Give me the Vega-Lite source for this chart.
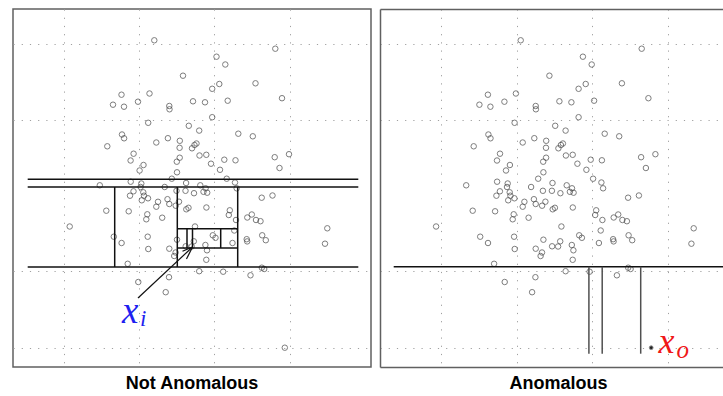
{
  "$schema": "https://vega.github.io/schema/vega-lite/v6.json",
  "padding": {"left": 12, "top": 8, "right": 0, "bottom": 0},
  "background": "white",
  "spacing": 8,
  "config": {
    "view": {"stroke": "#606060", "strokeWidth": 1.5},
    "axis": {"labels": false, "ticks": false, "title": null, "domain": false, "grid": true, "gridColor": "#a0a0a0", "gridDash": [1.2, 7], "gridWidth": 1, "minExtent": 0, "maxExtent": 0, "domainColor": "#606060", "domainWidth": 1.5},
    "title": {"font": "Liberation Sans", "fontSize": 18, "fontWeight": "bold", "color": "#000000", "orient": "bottom", "offset": 8}
  },
  "datasets": {
    "pts": [
      {"x":153.3,"y":39.3},{"x":274.3,"y":47.7},{"x":215.5,"y":55.7},{"x":224.3,"y":63.5},{"x":182,"y":74.7},
      {"x":254.5,"y":82.3},{"x":218.3,"y":83},{"x":211.2,"y":87.8},{"x":120.5,"y":93.7},{"x":148.5,"y":92.5},
      {"x":281,"y":97.2},{"x":112,"y":103.7},{"x":123,"y":105.7},{"x":137,"y":100.7},{"x":168.3,"y":105},
      {"x":168.5,"y":108.3},{"x":192,"y":100.3},{"x":204,"y":101.3},{"x":226.7,"y":99.7},{"x":211.2,"y":116.2},
      {"x":147.2,"y":121.8},{"x":187.8,"y":124.8},{"x":198.2,"y":129.6},{"x":237.3,"y":132.7},{"x":251.8,"y":135.3},
      {"x":121,"y":133.5},{"x":123.1,"y":137.3},{"x":166.9,"y":137.2},{"x":155.3,"y":141.5},{"x":178.8,"y":139.8},
      {"x":106.3,"y":145.3},{"x":178.6,"y":146.8},{"x":191,"y":147.3},{"x":193.5,"y":144},{"x":195.5,"y":142.5},
      {"x":132.6,"y":152.7},{"x":129.6,"y":159.5},{"x":142.5,"y":164},{"x":138.6,"y":169.5},{"x":198.5,"y":154.5},
      {"x":205.3,"y":153.8},{"x":178.7,"y":156.7},{"x":175.8,"y":160.7},{"x":210,"y":162.7},{"x":223.3,"y":158.7},
      {"x":234.5,"y":159.3},{"x":219,"y":168.8},{"x":273.7,"y":156.2},{"x":288,"y":153.2},{"x":278.5,"y":167},
      {"x":176,"y":171.3},{"x":170.8,"y":177.7},{"x":225.7,"y":177.7},{"x":234,"y":181.5},{"x":98.8,"y":184.3},
      {"x":129.7,"y":180.7},{"x":140.3,"y":182.5},{"x":185.1,"y":182},{"x":163.7,"y":186},{"x":199.3,"y":184.3},
      {"x":204.6,"y":187.3},{"x":175.5,"y":189.8},{"x":184.5,"y":189.8},{"x":193,"y":192.2},{"x":202.5,"y":190.8},
      {"x":206.2,"y":191.7},{"x":235.7,"y":187.3},{"x":132.5,"y":190.3},{"x":142.3,"y":191.3},{"x":129,"y":194.7},
      {"x":139.6,"y":186},{"x":260.7,"y":196.7},{"x":271.5,"y":194.5},{"x":143,"y":194.7},{"x":147,"y":197.3},
      {"x":140.8,"y":199.3},{"x":157,"y":200.8},{"x":155.3,"y":205.7},{"x":166.5,"y":198.2},{"x":168.3,"y":203},
      {"x":174.7,"y":204.7},{"x":178,"y":200.7},{"x":105.3,"y":209.7},{"x":127.7,"y":210.3},{"x":146.3,"y":213.3},
      {"x":145.3,"y":218.3},{"x":161.2,"y":216.7},{"x":185.3,"y":208.3},{"x":187.5,"y":206.8},{"x":205.4,"y":206.5},
      {"x":228.8,"y":209.3},{"x":227.8,"y":214},{"x":235,"y":219},{"x":246.3,"y":216.5},{"x":250.8,"y":213.5},
      {"x":255,"y":219},{"x":259.5,"y":220.2},{"x":68.7,"y":225.5},{"x":326.3,"y":227.3},{"x":324,"y":242.7},
      {"x":194,"y":225.5},{"x":112.8,"y":235.7},{"x":120.6,"y":242},{"x":146.7,"y":235.7},{"x":147.3,"y":248},
      {"x":168.3,"y":247.7},{"x":176,"y":238.7},{"x":173.2,"y":255},{"x":174.6,"y":251.5},{"x":184.7,"y":245.3},
      {"x":190.7,"y":245.5},{"x":192.8,"y":240.3},{"x":204.4,"y":244},{"x":206,"y":249.3},{"x":205.3,"y":258.8},
      {"x":211.8,"y":234.3},{"x":214.5,"y":236.8},{"x":231.5,"y":242},{"x":233.3,"y":229.5},{"x":245.7,"y":238.2},
      {"x":246.2,"y":240.4},{"x":261.2,"y":234.3},{"x":264.8,"y":239.2},{"x":126.7,"y":262.8},{"x":198.2,"y":270.2},
      {"x":222.2,"y":270.7},{"x":249.5,"y":274.3},{"x":260.8,"y":266.7},{"x":263.2,"y":268},{"x":137.3,"y":281},
      {"x":168,"y":276.2},{"x":164.7,"y":291.2},{"x":283.8,"y":346.7,"k":"o"}
    ],
    "linesL": [
      {"x":26.7,"x2":357.3,"y":178.3,"y2":178.3},
      {"x":26.7,"x2":357.3,"y":186,"y2":186},
      {"x":26.7,"x2":357.3,"y":266,"y2":266},
      {"x":113.7,"x2":113.7,"y":186,"y2":266},
      {"x":176.3,"x2":176.3,"y":186,"y2":266},
      {"x":236.7,"x2":236.7,"y":186,"y2":266},
      {"x":176.3,"x2":236.7,"y":227.7,"y2":227.7},
      {"x":176.3,"x2":236.7,"y":247,"y2":247},
      {"x":186,"x2":186,"y":227.7,"y2":247},
      {"x":191.5,"x2":191.5,"y":227.7,"y2":247},
      {"x":219.7,"x2":219.7,"y":227.7,"y2":247}
    ],
    "arrow": [
      {"x":137,"y":297,"x2":191.5,"y2":246},
      {"x":191.5,"y":246,"x2":181.5,"y2":250.3},
      {"x":191.5,"y":246,"x2":185.5,"y2":258}
    ],
    "linesRh": [
      {"x":26.3,"x2":357.6,"y":265.7,"y2":265.7}
    ],
    "linesRv": [
      {"x":221.5,"x2":221.5,"y":265.7,"y2":352.7},
      {"x":234.8,"x2":234.8,"y":265.7,"y2":352.7},
      {"x":273.3,"x2":273.3,"y":265.7,"y2":352.7}
    ]
  },
  "hconcat": [
    {
      "width": 358,
      "height": 358,
      "title": {"text": "Not Anomalous"},
      "layer": [
        {
          "data": {"name": "pts"},
          "mark": {"type": "point", "shape": "circle", "filled": false, "size": 30, "stroke": "#474747", "strokeWidth": 1},
          "encoding": {
            "x": {"field": "x", "type": "quantitative", "scale": {"domain": [12, 370], "nice": false, "zero": false}, "axis": {"values": [63, 138, 213, 289]}},
            "y": {"field": "y", "type": "quantitative", "scale": {"domain": [366, 8], "nice": false, "zero": false}, "axis": {"values": [43, 119, 270, 347]}}
          }
        },
        {
          "data": {"name": "linesL"},
          "mark": {"type": "rule", "color": "#111111", "strokeWidth": 1.5},
          "encoding": {
            "x": {"field": "x", "type": "quantitative"}, "x2": {"field": "x2"},
            "y": {"field": "y", "type": "quantitative"}, "y2": {"field": "y2"}
          }
        },
        {
          "data": {"name": "arrow"},
          "mark": {"type": "rule", "color": "#111111", "strokeWidth": 1.2},
          "encoding": {
            "x": {"field": "x", "type": "quantitative"}, "x2": {"field": "x2"},
            "y": {"field": "y", "type": "quantitative"}, "y2": {"field": "y2"}
          }
        },
        {
          "data": {"values": [{"x": 121, "y": 322, "t": "x"}]},
          "mark": {"type": "text", "font": "Liberation Serif", "fontStyle": "italic", "fontSize": 37, "color": "#1f1ff0", "align": "left", "baseline": "alphabetic"},
          "encoding": {"x": {"field": "x", "type": "quantitative"}, "y": {"field": "y", "type": "quantitative"}, "text": {"field": "t"}}
        },
        {
          "data": {"values": [{"x": 139, "y": 325, "t": "i"}]},
          "mark": {"type": "text", "font": "Liberation Serif", "fontStyle": "italic", "fontSize": 23, "color": "#1f1ff0", "align": "left", "baseline": "alphabetic"},
          "encoding": {"x": {"field": "x", "type": "quantitative"}, "y": {"field": "y", "type": "quantitative"}, "text": {"field": "t"}}
        }
      ]
    },
    {
      "width": 345,
      "height": 358,
      "title": {"text": "Anomalous", "dx": 6},
      "view": {"stroke": null},
      "resolve": {"axis": {"x": "independent"}},
      "layer": [
        {
          "data": {"name": "pts"},
          "transform": [{"filter": "datum.k != 'o'"}],
          "mark": {"type": "point", "shape": "circle", "filled": false, "size": 30, "stroke": "#474747", "strokeWidth": 1},
          "encoding": {
            "x": {"field": "x", "type": "quantitative", "scale": {"domain": [12.6, 357.6], "nice": false, "zero": false}, "axis": {"values": [73.6, 149.6, 224.6, 300.6], "orient": "bottom", "domain": true}},
            "y": {"field": "y", "type": "quantitative", "scale": {"domain": [366, 8], "nice": false, "zero": false}, "axis": {"values": [43, 119, 270, 347], "orient": "left", "domain": true}}
          }
        },
        {
          "data": {"name": "linesRh"},
          "mark": {"type": "rule", "color": "#111111", "strokeWidth": 1.5},
          "encoding": {
            "x": {"field": "x", "type": "quantitative", "axis": {"orient": "top", "domain": true, "grid": false}}, "x2": {"field": "x2"},
            "y": {"field": "y", "type": "quantitative"}, "y2": {"field": "y2"}
          }
        },
        {
          "data": {"name": "linesRv"},
          "mark": {"type": "rule", "color": "#505050", "strokeWidth": 1.5},
          "encoding": {
            "x": {"field": "x", "type": "quantitative", "axis": null}, "x2": {"field": "x2"},
            "y": {"field": "y", "type": "quantitative"}, "y2": {"field": "y2"}
          }
        },
        {
          "data": {"name": "pts"},
          "transform": [{"filter": "datum.k == 'o'"}],
          "mark": {"type": "point", "shape": "circle", "filled": true, "size": 14, "fill": "#222222", "stroke": "#888888", "strokeWidth": 1, "opacity": 1},
          "encoding": {
            "x": {"field": "x", "type": "quantitative", "axis": null},
            "y": {"field": "y", "type": "quantitative"}
          }
        },
        {
          "data": {"values": [{"x": 291, "y": 351.7, "t": "x"}]},
          "mark": {"type": "text", "font": "Liberation Serif", "fontStyle": "italic", "fontSize": 36, "color": "#f01818", "align": "left", "baseline": "alphabetic"},
          "encoding": {"x": {"field": "x", "type": "quantitative", "axis": null}, "y": {"field": "y", "type": "quantitative"}, "text": {"field": "t"}}
        },
        {
          "data": {"values": [{"x": 309, "y": 356.7, "t": "o"}]},
          "mark": {"type": "text", "font": "Liberation Serif", "fontStyle": "italic", "fontSize": 25, "color": "#f01818", "align": "left", "baseline": "alphabetic"},
          "encoding": {"x": {"field": "x", "type": "quantitative", "axis": null}, "y": {"field": "y", "type": "quantitative"}, "text": {"field": "t"}}
        }
      ]
    }
  ]
}
